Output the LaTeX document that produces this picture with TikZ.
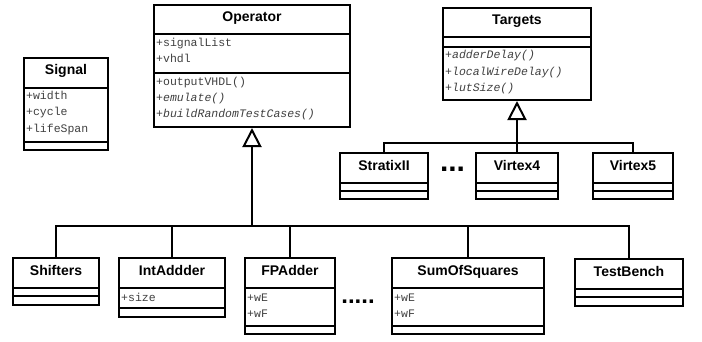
\documentclass[tikz,border=0pt]{standalone}
\usepackage{fontspec}
\setmainfont{Liberation Sans}
\newfontfamily\umlmono{Liberation Mono}
\usetikzlibrary{fit,arrows.meta}
\tikzset{
  cls/.style={draw, line width=2pt, inner sep=0pt, fill=white},
  div/.style={line width=2pt},
  ttl/.style={font=\bfseries\fontsize{14}{16}\selectfont, anchor=base, inner sep=0pt},
  attr/.style={font=\umlmono\fontsize{11.5}{13}\selectfont, text=black!75, anchor=base west, inner sep=0pt},
  meth/.style={attr, font=\umlmono\itshape\fontsize{11.5}{13}\selectfont},
  linkline/.style={draw=black, line width=2pt, line join=miter},
  inh/.style={linkline, -{Triangle[open, length=19pt, width=19pt, line width=2pt]}},
  dotsbig/.style={font=\bfseries\fontsize{30}{32}\selectfont, anchor=base, inner sep=0pt},
  dotssmall/.style={font=\bfseries\fontsize{24}{26}\selectfont, anchor=base, inner sep=0pt},
}
\begin{document}
\begin{tikzpicture}[x=1pt,y=-1pt]
\useasboundingbox[fill=white] (0,0) rectangle (702,341);

% Signal
\node[cls, fit={(24,58)(108,150)}] (sig) {};
\draw[div] (sig.west |- 0,88) -- (sig.east |- 0,88);
\draw[div] (sig.west |- 0,142) -- (sig.east |- 0,142);
\node[ttl] (sigT) at (66,74.5) {Signal};
\node[attr] (sigA1) at (26,99.5) {+width};
\node[attr] (sigA2) at (26,115.5) {+cycle};
\node[attr] (sigA3) at (26,132) {+lifeSpan};

% Operator
\node[cls, fit={(154,5)(350,127)}] (op) {};
\draw[div] (op.west |- 0,34) -- (op.east |- 0,34);
\draw[div] (op.west |- 0,73) -- (op.east |- 0,73);
\node[ttl] (opT) at (252,21.5) {Operator};
\node[attr] (opA1) at (156,46.5) {+signalList};
\node[attr] (opA2) at (156,62.5) {+vhdl};
\node[attr] (opM1) at (156,85) {+outputVHDL()};
\node[meth] (opM2) at (156,101) {+emulate()};
\node[meth] (opM3) at (156,117) {+buildRandomTestCases()};

% Targets
\node[cls, fit={(443,8)(591,100)}] (tg) {};
\draw[div] (tg.west |- 0,37) -- (tg.east |- 0,37);
\draw[div] (tg.west |- 0,47) -- (tg.east |- 0,47);
\node[ttl] (tgT) at (517,24) {Targets};
\node[meth] (tgM1) at (445,58.5) {+adderDelay()};
\node[meth] (tgM2) at (445,75) {+localWireDelay()};
\node[meth] (tgM3) at (445,91.5) {+lutSize()};

% Targets children
\node[cls, fit={(340,153)(428,199)}] (sx) {};
\draw[div] (sx.west |- 0,183) -- (sx.east |- 0,183);
\draw[div] (sx.west |- 0,191) -- (sx.east |- 0,191);
\node[ttl] (sxT) at (384,170) {StratixII};

\node[cls, fit={(476,153)(558,199)}] (v4) {};
\draw[div] (v4.west |- 0,183) -- (v4.east |- 0,183);
\draw[div] (v4.west |- 0,191) -- (v4.east |- 0,191);
\node[ttl] (v4T) at (517,170) {Virtex4};

\node[cls, fit={(593,153)(673,199)}] (v5) {};
\draw[div] (v5.west |- 0,183) -- (v5.east |- 0,183);
\draw[div] (v5.west |- 0,191) -- (v5.east |- 0,191);
\node[ttl] (v5T) at (633,170) {Virtex5};

\node[dotsbig] (dots1) at (452.5,171) {...};

% Operator children
\node[cls, fit={(13,258)(99,305)}] (shf) {};
\draw[div] (shf.west |- 0,288) -- (shf.east |- 0,288);
\draw[div] (shf.west |- 0,296) -- (shf.east |- 0,296);
\node[ttl] (shfT) at (56,275) {Shifters};

\node[cls, fit={(119,258)(225,317)}] (ia) {};
\draw[div] (ia.west |- 0,288) -- (ia.east |- 0,288);
\draw[div] (ia.west |- 0,308) -- (ia.east |- 0,308);
\node[ttl] (iaT) at (172,275) {IntAddder};
\node[attr] (iaA1) at (121,301) {+size};

\node[cls, fit={(245,258)(335,334)}] (fp) {};
\draw[div] (fp.west |- 0,288) -- (fp.east |- 0,288);
\draw[div] (fp.west |- 0,326) -- (fp.east |- 0,326);
\node[ttl] (fpT) at (290,275) {FPAdder};
\node[attr] (fpA1) at (247,301) {+wE};
\node[attr] (fpA2) at (247,317) {+wF};

\node[cls, fit={(392,258)(544,334)}] (sq) {};
\draw[div] (sq.west |- 0,288) -- (sq.east |- 0,288);
\draw[div] (sq.west |- 0,326) -- (sq.east |- 0,326);
\node[ttl] (sqT) at (468,275) {SumOfSquares};
\node[attr] (sqA1) at (394,301) {+wE};
\node[attr] (sqA2) at (394,317) {+wF};

\node[cls, fit={(575,259)(683,306)}] (tb) {};
\draw[div] (tb.west |- 0,289) -- (tb.east |- 0,289);
\draw[div] (tb.west |- 0,297) -- (tb.east |- 0,297);
\node[ttl] (tbT) at (629,276) {TestBench};

\node[dotssmall] (dots2) at (358,303) {.....};

% Inheritance: Operator
\coordinate (obus) at (252,226);
\draw[inh] (obus) -- (op.south);
\path[linkline] (shf.north) |- (obus) -| (tb.north);
\path[linkline] (ia.north) -- (ia.north |- obus);
\path[linkline] (fp.north) -- (fp.north |- obus);
\path[linkline] (sq.north) -- (sq.north |- obus);

% Inheritance: Targets
\coordinate (tbus) at (517,143);
\draw[inh] (tbus) -- (tg.south);
\path[linkline] (sx.north) |- (tbus) -| (v5.north);
\path[linkline] (v4.north) -- (v4.north |- tbus);
\end{tikzpicture}
\end{document}
